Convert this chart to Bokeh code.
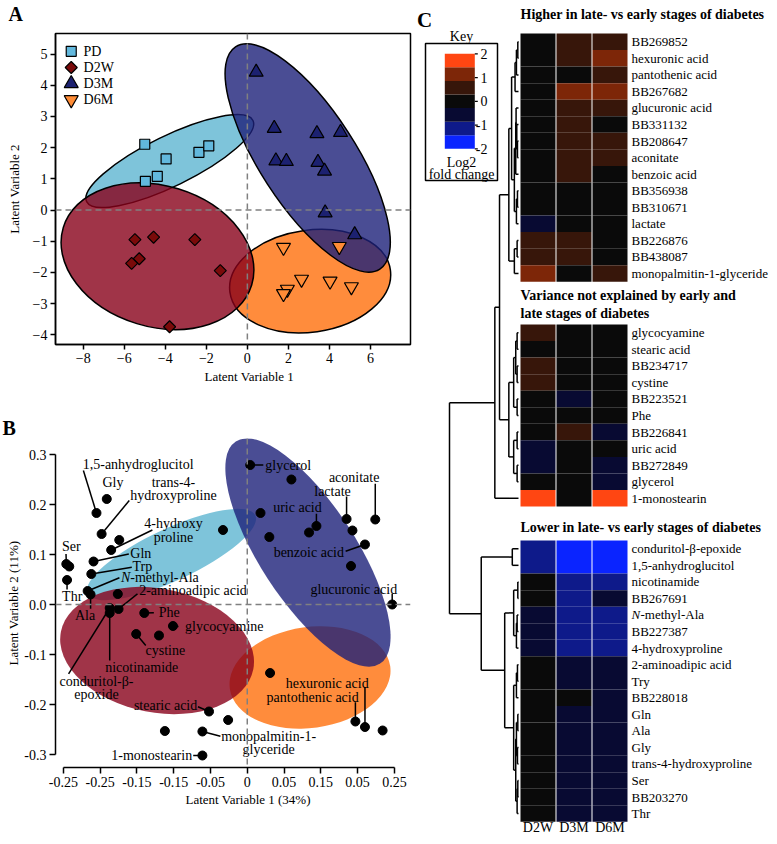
import numpy as np
from bokeh.plotting import figure
from bokeh.models import (Range1d, Span, Title, FixedTicker, NumeralTickFormatter, ColumnDataSource,
                          LinearAxis)
from bokeh.layouts import row, column
from bokeh.embed import file_html
from bokeh.resources import INLINE
from bokeh.core.properties import value
from bokeh.transform import linear_cmap

FONT = "Liberation Serif"

# ---------------- Panel A data ----------------
groups = ["PD", "D2W", "D3M", "D6M"]
pd_x = [-5.0, -3.96, -2.36, -1.88, -4.39, -4.97]
pd_y = [2.11, 1.64, 1.85, 2.06, 1.08, 0.92]
d2w_x = [-5.48, -4.57, -2.56, -5.27, -5.64, -1.32, -3.79]
d2w_y = [-0.95, -0.87, -0.95, -1.56, -1.71, -1.94, -3.74]
d3m_x = [0.43, 1.31, 3.39, 4.54, 1.39, 1.90, 3.44, 3.76, 3.79, 5.23]
d3m_y = [4.42, 2.62, 2.45, 2.49, 1.58, 1.56, 1.53, 1.25, -0.09, -0.79]
d6m_x = [1.76, 4.48, 2.64, 4.03, 5.07, 1.95, 1.76]
d6m_y = [-1.20, -1.17, -2.22, -2.28, -2.46, -2.54, -2.68]
a_ell_x = [-3.78, -4.38, 2.94, 3.06]
a_ell_y = [1.57, -1.48, 1.67, -2.28]
a_xticks = [-8, -6, -4, -2, 0, 2, 4, 6]
a_yticks = [-4, -3, -2, -1, 0, 1, 2, 3, 4, 5]

# ---------------- Panel B data ----------------
b_names = ["1,5-anhydroglucitol", "Gly", "trans-4-hydroxyproline", "", "4-hydroxyproline",
           "Gln", "Ser", "", "Trp", "Thr", "N-methyl-Ala", "Ala", "", "2-aminoadipic acid",
           "conduritol-β-epoxide", "nicotinamide", "Phe", "glycocyamine", "cystine", "", "",
           "glycerol", "", "", "", "uric acid", "", "lactate", "", "aconitate", "benzoic acid",
           "", "glucuronic acid", "", "pantothenic acid", "hexuronic acid", "", "stearic acid",
           "", "", "monopalmitin-1-glyceride", "1-monostearin"]
b_x = [-0.205, -0.191, -0.198, -0.174, -0.185, -0.209, -0.246, -0.242, -0.212, -0.245,
       -0.217, -0.213, -0.176, -0.175, -0.187, -0.187, -0.140, -0.101, -0.151, -0.120,
       -0.033, 0.004, 0.060, 0.018, 0.030, 0.094, 0.084, 0.135, 0.143, 0.174, 0.160,
       0.141, 0.197, 0.031, 0.147, 0.160, 0.184, -0.052, -0.026, -0.112, -0.061, -0.061]
b_y = [0.183, 0.211, 0.141, 0.129, 0.109, 0.086, 0.081, 0.076, 0.061, 0.049,
       0.027, 0.020, 0.021, -0.009, -0.007, -0.017, -0.017, -0.043, -0.059, -0.062,
       0.149, 0.279, 0.250, 0.183, 0.135, 0.157, 0.144, 0.171, 0.148, 0.170, 0.120,
       0.077, 0.000, -0.137, -0.234, -0.245, -0.252, -0.214, -0.231, -0.253, -0.254, -0.302]
b_ell_x = [-0.103, -0.1226, 0.0825, 0.0853]
b_ell_y = [0.100, -0.092, 0.104, -0.146]
b_xticks = [-0.25, -0.2, -0.15, -0.1, -0.05, 0, 0.05, 0.1, 0.15, 0.2]
b_xtick_labels = ["-0.25", "-0.25", "-0.15", "-0.15", "-0.05", "0", "0.05", "0.15", "0.05", "0.25"]
b_yticks = [-0.3, -0.2, -0.1, 0, 0.1, 0.2, 0.3]

# ---------------- Panel C data ----------------
hm_cols = ["D2W", "D3M", "D6M"]
g1_names = ["BB269852", "hexuronic acid", "pantothenic acid", "BB267682", "glucuronic acid",
            "BB331132", "BB208647", "aconitate", "benzoic acid", "BB356938", "BB310671",
            "lactate", "BB226876", "BB438087", "monopalmitin-1-glyceride"]
g1_vals = [[0, 0.5, 0.5], [0, 0.5, 1.1], [0, 0, 0.5], [0, 1.1, 1.1], [0, 0.5, 0.5],
           [0, 0.5, 0], [0, 0.5, 0.5], [0, 0.5, 0.5], [0, 0.5, 0], [0, 0, 0], [0, 0, 0],
           [-0.5, 0, 0], [0.5, 0.5, 0], [0.5, 0.5, 0], [1.1, 0, 0.5]]
g2_names = ["glycocyamine", "stearic acid", "BB234717", "cystine", "BB223521", "Phe",
            "BB226841", "uric acid", "BB272849", "glycerol", "1-monostearin"]
g2_vals = [[0.5, 0, 0], [0, 0, 0], [0.5, 0, 0], [0.5, 0, 0], [0, -0.5, 0], [0, 0, 0],
           [0, 0.5, -0.5], [-0.5, 0, 0], [-0.5, 0, -0.5], [0, 0, -0.5], [1.8, 0, 1.8]]
g3_names = ["conduritol-β-epoxide", "1,5-anhydroglucitol", "nicotinamide", "BB267691",
            "N-methyl-Ala", "BB227387", "4-hydroxyproline", "2-aminoadipic acid", "Try",
            "BB228018", "Gln", "Ala", "Gly", "trans-4-hydroxyproline", "Ser", "BB203270", "Thr"]
g3_vals = [[-1.1, -1.8, -1.8], [-1.1, -1.8, -1.8], [0, -1.1, -1.1], [0, -1.1, -0.5],
           [-0.5, -1.1, -1.1], [-0.5, -1.1, -1.1], [-0.5, -1.1, -1.1], [0, -0.5, -0.5],
           [0, -0.5, -0.5], [0, 0, -0.5], [0, -0.5, -0.5], [0, -0.5, -0.5], [0, -0.5, -0.5],
           [0, -0.5, -0.5], [0, -0.5, -0.5], [0, -0.5, -0.5], [0, -0.5, -0.5]]
group_titles = [["Higher in late- vs early stages of diabetes"],
                ["Variance not explained by early and", "late stages of diabetes"],
                ["Lower in late- vs early stages of diabetes"]]
palette = ["#0A24FF", "#0E1A8A", "#080A32", "#0A0A0A", "#37160A", "#7D2608", "#FF4612"]
key_ticks = [2, 1, 0, -1, -2]
dend_tree = (1.0,
  (0.343,
    (0.275,
      (0.14,
        (0.10,
          (0.05, (0.03, (0.01, "BB269852", "hexuronic acid"), "pantothenic acid"), "BB267682"),
          (0.06,
            (0.04, (0.035, "glucuronic acid", (0.025, "BB331132", (0.015, "BB208647", "aconitate"))), "benzoic acid"),
            (0.03, (0.015, "BB356938", "BB310671"), "lactate"))),
        (0.06, (0.02, "BB226876", "BB438087"), "monopalmitin-1-glyceride")),
      (0.14,
        (0.07, (0.04, (0.02, "glycocyamine", "stearic acid"), (0.02, "BB234717", "cystine")),
               (0.02, "BB223521", "Phe")),
        (0.07, (0.02, "BB226841", "uric acid"), (0.02, "BB272849", "glycerol")))),
    "1-monostearin"),
  (0.54,
    (0.09, "conduritol-β-epoxide", "1,5-anhydroglucitol"),
    (0.2,
      (0.07, (0.01, "nicotinamide", "BB267691"),
             (0.03, (0.02, "N-methyl-Ala", "BB227387"), "4-hydroxyproline")),
      (0.07, (0.03, (0.015, "2-aminoadipic acid", "Try"), "BB228018"),
             (0.04, (0.03, (0.01, "Gln", "Ala"), (0.015, "Gly", "trans-4-hydroxyproline")),
                    (0.02, (0.01, "Ser", "BB203270"), "Thr"))))))

# ---------------- styles ----------------
marker_style = {
    "PD": dict(marker="square", size=10, angle=0.0, fill_color="#62B8DD"),
    "D2W": dict(marker="square", size=8.5, angle=np.pi / 4, fill_color="#7A0A0A"),
    "D3M": dict(marker="triangle", size=14, angle=0.0, fill_color="#1C2170"),
    "D6M": dict(marker="inverted_triangle", size=14, angle=0.0, fill_color="#FF8C36"),
}
ell_fill = {"PD": "#5EB5D1", "D2W": "#88011A", "D3M": "#1D2179", "D6M": "#FF6F0B"}
a_ell_shape = {"PD": (185, 50, 26), "D2W": (197, 141, -17), "D3M": (265, 96, -57), "D6M": (162, 102, 8)}
b_ell_shape = {"PD": (185, 52, 25), "D2W": (196, 124, -11), "D3M": (265, 96, -57), "D6M": (162, 101, 8)}
draw_order = ["PD", "D6M", "D2W", "D3M"]


def style_axes(p, tick_out=6):
    for ax in [p.xaxis[0], p.yaxis[0]]:
        ax.axis_line_width = 1.5
        ax.axis_line_color = "black"
        ax.major_tick_line_width = 1.5
        ax.major_tick_line_color = "black"
        ax.major_tick_out = tick_out
        ax.major_tick_in = 0
        ax.minor_tick_line_color = None
        ax.major_label_text_font = FONT
        ax.major_label_text_font_size = "14px"
        ax.major_label_text_color = "black"
        ax.major_label_standoff = 3
    p.xgrid.visible = False
    p.ygrid.visible = False


def add_ellipses(p, ex, ey, shapes, outline):
    for g in draw_order:
        i = groups.index(g)
        w, h, ang = shapes[g]
        p.ellipse(x=[ex[i]], y=[ey[i]], width=w, height=h, angle=ang, angle_units="deg",
                  width_units="screen", height_units="screen",
                  fill_color=ell_fill[g], fill_alpha=0.8,
                  line_color="black" if outline else None, line_width=1.5)


def add_title(p, text, side, offset, standoff, size="13px", bold=False):
    p.add_layout(Title(text=text, align="left", offset=offset, standoff=standoff,
                       text_font=FONT, text_font_size=size, text_color="black",
                       text_font_style="bold" if bold else "normal"), side)


# ================= Panel A =================
A_X = (-9.35, 7.95)
A_Y = (-4.31, 5.66)
A_FW, A_FH = 361, 314
pA = figure(title=None, width=416, height=390, x_range=Range1d(*A_X),
            y_range=Range1d(*A_Y), output_backend="svg", toolbar_location=None,
            min_border_left=49, min_border_right=6, min_border_top=30, min_border_bottom=46)
style_axes(pA, tick_out=5)
pA.outline_line_color = "black"
pA.outline_line_width = 1.5
pA.xaxis.ticker = FixedTicker(ticks=a_xticks)
pA.yaxis.ticker = FixedTicker(ticks=a_yticks)
add_ellipses(pA, a_ell_x, a_ell_y, a_ell_shape, True)
for dim in ("height", "width"):
    pA.add_layout(Span(location=0, dimension=dim, line_color="#808080",
                       line_dash="6 4", line_width=1.5))
a_pts = {"PD": (pd_x, pd_y), "D2W": (d2w_x, d2w_y), "D3M": (d3m_x, d3m_y), "D6M": (d6m_x, d6m_y)}
for g in groups:
    xs, ys = a_pts[g]
    st = marker_style[g]
    pA.scatter(x=xs, y=ys, marker=st["marker"], size=st["size"], angle=st["angle"],
               fill_color=st["fill_color"], line_color="black", line_width=1.2)
# legend drawn by hand (screen offsets from frame top-left converted to data units)
a_sx = A_FW / (A_X[1] - A_X[0])
a_sy = A_FH / (A_Y[1] - A_Y[0])
for i, g in enumerate(groups):
    st = marker_style[g]
    ly = A_Y[1] - (18 + 16.3 * i) / a_sy
    pA.scatter(x=[A_X[0] + 16 / a_sx], y=[ly], marker=st["marker"], size=st["size"],
               angle=st["angle"], fill_color=st["fill_color"], line_color="black", line_width=1.2)
    pA.text(x=[A_X[0] + 28.5 / a_sx], y=[ly], text=[g], text_align="left", text_baseline="middle",
            text_font=value(FONT), text_font_size="14px", text_color="black")
add_title(pA, "Latent Variable 1", "below", 149, 2)
# y title carried by a bare second axis whose bounds centre the text on y = 0
ylab_axis = LinearAxis(ticker=FixedTicker(ticks=[]), bounds=(A_Y[0], -A_Y[0]),
                       axis_line_color=None, major_tick_out=0, major_tick_in=0,
                       minor_tick_line_color=None, major_label_standoff=0,
                       axis_label="Latent Variable 2", axis_label_standoff=8,
                       axis_label_text_font=FONT, axis_label_text_font_size="13px",
                       axis_label_text_font_style="normal", axis_label_text_color="black")
pA.add_layout(ylab_axis, "left")
add_title(pA, " ", "above", 0, 5, size="2px")
add_title(pA, "A", "above", -47, 0, size="20px", bold=True)

# ================= Panel B =================
B_X = (-0.2607, 0.2219)
B_Y = (-0.326, 0.332)
pB = figure(title=None, width=416, height=446, x_range=Range1d(*B_X),
            y_range=Range1d(*B_Y), output_backend="svg", toolbar_location=None,
            min_border_left=55, min_border_right=0, min_border_top=48, min_border_bottom=69)
style_axes(pB)
pB.outline_line_color = None
pB.xaxis.ticker = FixedTicker(ticks=b_xticks)
pB.xaxis.major_label_overrides = {t: l for t, l in zip(b_xticks, b_xtick_labels)}
pB.xaxis.bounds = (b_xticks[0], b_xticks[-1])
pB.yaxis.ticker = FixedTicker(ticks=b_yticks)
pB.yaxis.formatter = NumeralTickFormatter(format="0.0")
pB.yaxis.bounds = (b_yticks[0], b_yticks[-1])
add_ellipses(pB, b_ell_x, b_ell_y, b_ell_shape, False)
for dim in ("height", "width"):
    pB.add_layout(Span(location=0, dimension=dim, line_color="#808080",
                       line_dash="6 4", line_width=1.5))

# label layout: (lines, x, y, align, leader start or None, target point)
b_label_layout = [
    (["1,5-anhydroglucitol"], -0.2237, 0.281, "left", (-0.2228, 0.268), "1,5-anhydroglucitol"),
    (["Gly"], -0.1827, 0.2446, "center", None, None),
    (["trans-4-", "hydroxyproline"], -0.1003, 0.2446, "center", (-0.1604, 0.208), "trans-4-hydroxyproline"),
    (["4-hydroxy", "proline"], -0.1003, 0.1614, "center", (-0.129, 0.149), "4-hydroxyproline"),
    (["Ser"], -0.2393, 0.1166, "center", (-0.2464, 0.101), "Ser"),
    (["Gln"], -0.159, 0.1026, "left", (-0.161, 0.101), "Gln"),
    (["Trp"], -0.156, 0.076, "left", (-0.157, 0.0746), "Trp"),
    (["@N-methyl-Ala"], -0.1715, 0.0534, "left", (-0.1738, 0.0534), "N-methyl-Ala"),
    (["Thr"], -0.238, 0.016, "center", (-0.245, 0.03), "Thr"),
    (["Ala"], -0.2206, -0.022, "center", (-0.213, -0.0086), "Ala"),
    (["2-aminoadipic acid"], -0.147, 0.028, "left", (-0.1493, 0.0214), "2-aminoadipic acid"),
    (["Phe"], -0.1203, -0.0166, "left", (-0.127, -0.0166), "Phe"),
    (["glycocyamine"], -0.0846, -0.044, "left", (-0.0935, -0.044), "glycocyamine"),
    (["cystine"], -0.1114, -0.092, "center", (-0.138, -0.082), "cystine"),
    (["nicotinamide"], -0.1435, -0.1267, "center", (-0.187, -0.112), "nicotinamide"),
    (["conduritol-β-", "epoxide"], -0.205, -0.153, "center", (-0.2429, -0.1386), "conduritol-β-epoxide"),
    (["stearic acid"], -0.068, -0.202, "right", (-0.067, -0.2046), "stearic acid"),
    (["monopalmitin-1-", "glyceride"], 0.029, -0.2634, "center", (-0.0365, -0.2634), "monopalmitin-1-glyceride"),
    (["1-monostearin"], -0.0749, -0.302, "right", (-0.0735, -0.302), "1-monostearin"),
    (["hexuronic acid"], 0.165, -0.157, "right", (0.160, -0.165), "hexuronic acid"),
    (["pantothenic acid"], 0.1515, -0.1853, "right", (0.147, -0.1953), "pantothenic acid"),
    (["glycerol"], 0.0245, 0.279, "left", (0.0218, 0.279), "glycerol"),
    (["uric acid"], 0.0682, 0.1946, "center", (0.094, 0.1813), "uric acid"),
    (["lactate"], 0.1159, 0.2266, "center", (0.135, 0.216), "lactate"),
    (["aconitate"], 0.1453, 0.2534, "center", (0.174, 0.2414), "aconitate"),
    (["benzoic acid"], 0.1315, 0.1034, "right", (0.1337, 0.1066), "benzoic acid"),
    (["glucuronic acid"], 0.1448, 0.0294, "center", (0.197, 0.0214), "glucuronic acid"),
]
LINE_DY = 0.0275
seg = dict(x0=[], y0=[], x1=[], y1=[])
texts = {"left": ([], [], []), "center": ([], [], []), "right": ([], [], [])}
italic_parts = []
for lines, tx, ty, align, lead, target in b_label_layout:
    for k, ln in enumerate(lines):
        if ln.startswith("@"):
            italic_parts.append((tx, ty - k * LINE_DY))
            texts["left"][0].append(tx + 0.0125)
            texts["left"][1].append(ty - k * LINE_DY)
            texts["left"][2].append(ln[2:])
        else:
            texts[align][0].append(tx)
            texts[align][1].append(ty - k * LINE_DY)
            texts[align][2].append(ln)
    if lead is not None:
        j = b_names.index(target)
        seg["x0"].append(lead[0]); seg["y0"].append(lead[1])
        seg["x1"].append(b_x[j]); seg["y1"].append(b_y[j])
pB.segment(x0="x0", y0="y0", x1="x1", y1="y1", source=ColumnDataSource(seg),
           line_color="black", line_width=1.5)
pB.scatter(x=b_x, y=b_y, size=9, fill_color="black", line_color="black")
for align, (xs, ys, ts) in texts.items():
    pB.text(x=xs, y=ys, text=ts, text_align=align, text_baseline="middle",
            text_font=value(FONT), text_font_size="14px", text_color="black")
for (ix, iy) in italic_parts:
    pB.text(x=[ix], y=[iy], text=["N"], text_align="left", text_baseline="middle",
            text_font=value(FONT), text_font_size="14px", text_font_style="italic",
            text_color="black")
add_title(pB, "Latent Variable 1 (34%)", "below", 130, 0)
add_title(pB, "Latent Variable 2 (11%)", "left", 102, 2)
add_title(pB, "B", "above", -53, 0, size="20px", bold=True)

# ================= Panel C =================
C_LEFT, C_RIGHT, C_H = 416, 771, 836
pC = figure(title=None, width=C_RIGHT - C_LEFT, height=C_H, x_range=Range1d(C_LEFT, C_RIGHT),
            y_range=Range1d(C_H, 0), output_backend="svg", toolbar_location=None, min_border=0)
pC.axis.visible = False
pC.xgrid.visible = False
pC.ygrid.visible = False
pC.outline_line_color = None

HM_X0, HM_PITCH, HM_CW, ROW_H = 520.0, 36.0, 35.0, 16.55
group_tops = [33.0, 324.0, 540.0]
title_ys = [[14.0], [295.0, 313.0], [527.0]]
groups_c = [(g1_names, g1_vals), (g2_names, g2_vals), (g3_names, g3_vals)]
cell = dict(x=[], y=[], v=[])
leaf_y = {}
lab = dict(x=[], y=[], t=[])
ital = dict(x=[], y=[])
for gi, (names, vals) in enumerate(groups_c):
    for ri, (nm, rv) in enumerate(zip(names, vals)):
        yc = group_tops[gi] + (ri + 0.5) * ROW_H
        leaf_y[nm] = yc
        for ci, v in enumerate(rv):
            cell["x"].append(HM_X0 + ci * HM_PITCH + HM_CW / 2)
            cell["y"].append(yc)
            cell["v"].append(v)
        if nm.startswith("N-methyl"):
            ital["x"].append(631); ital["y"].append(yc)
            lab["x"].append(640); lab["y"].append(yc); lab["t"].append(nm[1:])
        else:
            lab["x"].append(631); lab["y"].append(yc); lab["t"].append(nm)
    for ti, tt in enumerate(group_titles[gi]):
        pC.text(x=[HM_X0], y=[title_ys[gi][ti]], text=[tt], text_align="left",
                text_baseline="middle", text_font=value(FONT), text_font_size="14px",
                text_font_style="bold", text_color="black")

pC.rect(x="x", y="y", width=HM_CW, height=ROW_H, source=ColumnDataSource(cell),
        fill_color=linear_cmap("v", palette, -2, 2), line_color=None)
pC.text(x="x", y="y", text="t", source=ColumnDataSource(lab), text_align="left",
        text_baseline="middle", text_font=value(FONT), text_font_size="13px", text_color="black")
pC.text(x="x", y="y", text=value("N"), source=ColumnDataSource(ital), text_align="left",
        text_baseline="middle", text_font=value(FONT), text_font_size="13px",
        text_font_style="italic", text_color="black")
pC.text(x=[HM_X0 + i * HM_PITCH + HM_CW / 2 for i in range(3)], y=[834] * 3, text=hm_cols,
        text_align="center", text_baseline="bottom", text_font=value(FONT),
        text_font_size="14px", text_color="black")

# dendrogram
DX0, DSCALE = 518.0, 69.0
dseg = dict(x0=[], y0=[], x1=[], y1=[])


def walk(node):
    if isinstance(node, str):
        return leaf_y[node], 0.0
    h, left, right = node
    ya, ha = walk(left)
    yb, hb = walk(right)
    xn = DX0 - h * DSCALE
    for a, b, c, d in ((xn, ya, xn, yb), (xn, ya, DX0 - ha * DSCALE, ya), (xn, yb, DX0 - hb * DSCALE, yb)):
        dseg["x0"].append(a); dseg["y0"].append(b); dseg["x1"].append(c); dseg["y1"].append(d)
    return (ya + yb) / 2, h


walk(dend_tree)
pC.segment(x0="x0", y0="y0", x1="x1", y1="y1", source=ColumnDataSource(dseg),
           line_color="black", line_width=1.5)

# key
KX0, KX1, KY_TOP, KY_BOT = 444.3, 474.3, 53.3, 148.3
edges = np.linspace(-2, 2, len(palette) + 1)
kscale = (KY_BOT - KY_TOP) / 4.0
ky = lambda v: KY_TOP + (2 - v) * kscale
pC.quad(left=[KX0] * len(palette), right=[KX1] * len(palette),
        top=[ky(e) for e in edges[1:]], bottom=[ky(e) for e in edges[:-1]],
        fill_color=palette, line_color=None)
pC.quad(left=[425], right=[497], top=[43], bottom=[180], fill_color=None,
        line_color="black", line_width=1.5)
pC.segment(x0=[KX1] * 5, y0=[ky(t) for t in key_ticks], x1=[KX1 + 3] * 5,
           y1=[ky(t) for t in key_ticks], line_color="black", line_width=1.2)
pC.text(x=[487] * 5, y=[ky(t) for t in key_ticks], text=[str(t) for t in key_ticks],
        text_align="right", text_baseline="middle", text_font=value(FONT),
        text_font_size="14px", text_color="black")
pC.text(x=[461, 461, 461], y=[36, 161.5, 173.5], text=["Key", "Log2", "fold change"],
        text_align="center", text_baseline="middle", text_font=value(FONT),
        text_font_size="14px", text_color="black")
pC.text(x=[416.5], y=[19.5], text=["C"], text_align="left", text_baseline="alphabetic",
        text_font=value(FONT), text_font_size="21px", text_font_style="bold", text_color="black")

layout = row(column(pA, pB), pC)
open("out.html", "w").write(file_html(layout, INLINE))
